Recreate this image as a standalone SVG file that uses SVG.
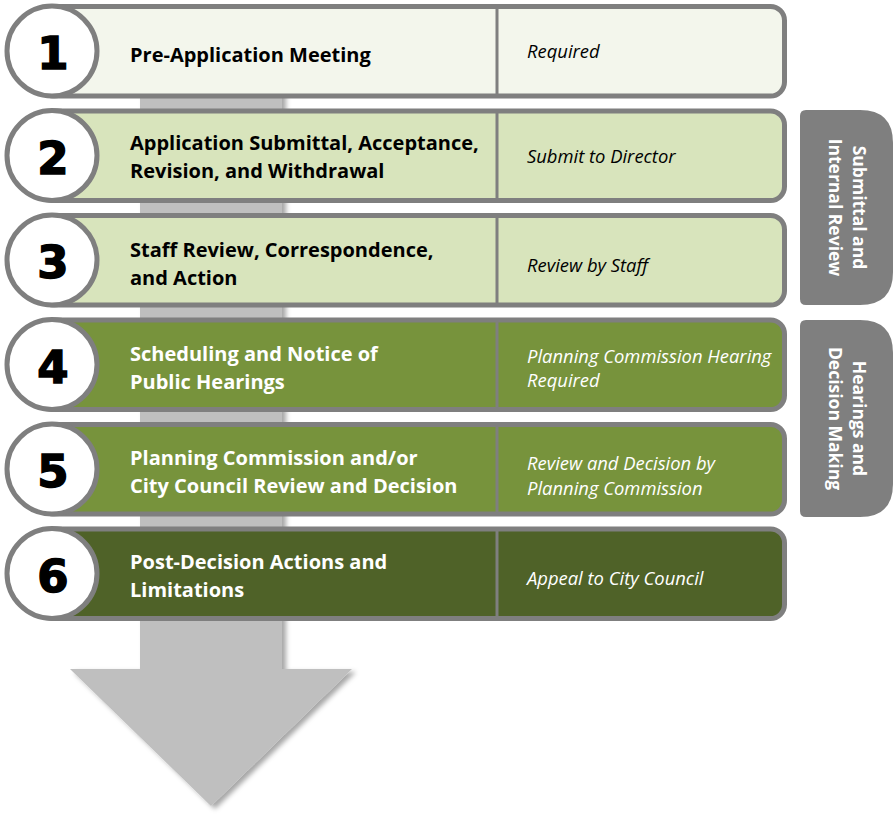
<svg xmlns="http://www.w3.org/2000/svg" width="893" height="814" viewBox="0 0 893 814">
<defs>
<filter id="sh" x="-20%" y="-20%" width="140%" height="140%">
<feDropShadow dx="4" dy="3" stdDeviation="2.5" flood-color="#000" flood-opacity="0.35"/>
</filter>
</defs>
<style>
.box{stroke:#7f7f7f;stroke-width:5}
.div{stroke:#7f7f7f;stroke-width:3}
.circ{fill:#fff;stroke:#7f7f7f;stroke-width:5}
.num{font-family:"DejaVu Sans",sans-serif;font-weight:bold;font-size:45px;text-anchor:middle;fill:#000;stroke:#000;stroke-width:1.5}
.lbl{font-family:"Open Sans","Noto Sans",sans-serif;font-weight:bold;font-size:20px}
.note{font-family:"Open Sans","Noto Sans",sans-serif;font-style:italic;font-size:18.4px}
.dk{fill:#000}
.wt{fill:#fff}
.tab{fill:#7f7f7f}
.tabt{font-family:"Open Sans","Noto Sans",sans-serif;font-weight:bold;font-size:17.5px;fill:#fff;text-anchor:middle}
</style>
<g id="arrow" filter="url(#sh)">
<path d="M140,40 H282 V669 H352 L211,806 L70,669 H140 Z" fill="#bfbfbf"/>
</g>
<g id="connectors"></g>
<g id="step1">
<rect class="box" x="40" y="6.5" width="744.5" height="89.5" rx="14" fill="#f3f6ec"/>
<line class="div" x1="497" y1="9" x2="497" y2="94"/>
<circle class="circ" cx="52" cy="51" r="45"/>
<text class="num" x="53" y="69">1</text>
<text class="lbl dk" x="130" y="62">Pre-Application Meeting</text>
<text class="note dk" x="527" y="58">Required</text>
</g>
<g id="step2">
<rect class="box" x="40" y="111" width="744.5" height="89.5" rx="14" fill="#d8e4bc"/>
<line class="div" x1="497" y1="113" x2="497" y2="198"/>
<circle class="circ" cx="52" cy="155.5" r="45"/>
<text class="num" x="53" y="173.5">2</text>
<text class="lbl dk" x="130" y="150">Application Submittal, Acceptance,</text>
<text class="lbl dk" x="130" y="178">Revision, and Withdrawal</text>
<text class="note dk" x="527" y="163">Submit to Director</text>
</g>
<g id="step3">
<rect class="box" x="40" y="215.5" width="744.5" height="89.5" rx="14" fill="#d8e4bc"/>
<line class="div" x1="497" y1="218" x2="497" y2="303"/>
<circle class="circ" cx="52" cy="260" r="45"/>
<text class="num" x="53" y="278">3</text>
<text class="lbl dk" x="130" y="257">Staff Review, Correspondence,</text>
<text class="lbl dk" x="130" y="285">and Action</text>
<text class="note dk" x="527" y="272">Review by Staff</text>
</g>
<g id="step4">
<rect class="box" x="40" y="320" width="744.5" height="89.5" rx="14" fill="#77933c"/>
<line class="div" x1="497" y1="322" x2="497" y2="407"/>
<circle class="circ" cx="52" cy="364.5" r="45"/>
<text class="num" x="53" y="382.5">4</text>
<text class="lbl wt" x="130" y="361">Scheduling and Notice of</text>
<text class="lbl wt" x="130" y="389">Public Hearings</text>
<text class="note wt" x="527" y="363">Planning Commission Hearing</text>
<text class="note wt" x="527" y="387">Required</text>
</g>
<g id="step5">
<rect class="box" x="40" y="424.5" width="744.5" height="89.5" rx="14" fill="#77933c"/>
<line class="div" x1="497" y1="427" x2="497" y2="512"/>
<circle class="circ" cx="52" cy="469" r="45"/>
<text class="num" x="53" y="487">5</text>
<text class="lbl wt" x="130" y="465">Planning Commission and/or</text>
<text class="lbl wt" x="130" y="493">City Council Review and Decision</text>
<text class="note wt" x="527" y="470">Review and Decision by</text>
<text class="note wt" x="527" y="495">Planning Commission</text>
</g>
<g id="step6">
<rect class="box" x="40" y="529" width="744.5" height="89.5" rx="14" fill="#4f6228"/>
<line class="div" x1="497" y1="531" x2="497" y2="616"/>
<circle class="circ" cx="52" cy="573.5" r="45"/>
<text class="num" x="53" y="591.5">6</text>
<text class="lbl wt" x="130" y="569">Post-Decision Actions and</text>
<text class="lbl wt" x="130" y="597">Limitations</text>
<text class="note wt" x="527" y="585">Appeal to City Council</text>
</g>
<g id="tab1">
<path class="tab" d="M806,110 H860 Q893,110 893,143 V272 Q893,305 860,305 H806 Q800,305 800,299 V116 Q800,110 806,110 Z"/>
<text class="tabt" transform="translate(853,207.5) rotate(90)">Submittal and</text>
<text class="tabt" transform="translate(829,207.5) rotate(90)">Internal Review</text>
</g>
<g id="tab2">
<path class="tab" d="M806,320 H860 Q893,320 893,353 V484 Q893,517 860,517 H806 Q800,517 800,511 V326 Q800,320 806,320 Z"/>
<text class="tabt" transform="translate(853,418.5) rotate(90)">Hearings and</text>
<text class="tabt" transform="translate(829,418.5) rotate(90)">Decision Making</text>
</g>
</svg>
